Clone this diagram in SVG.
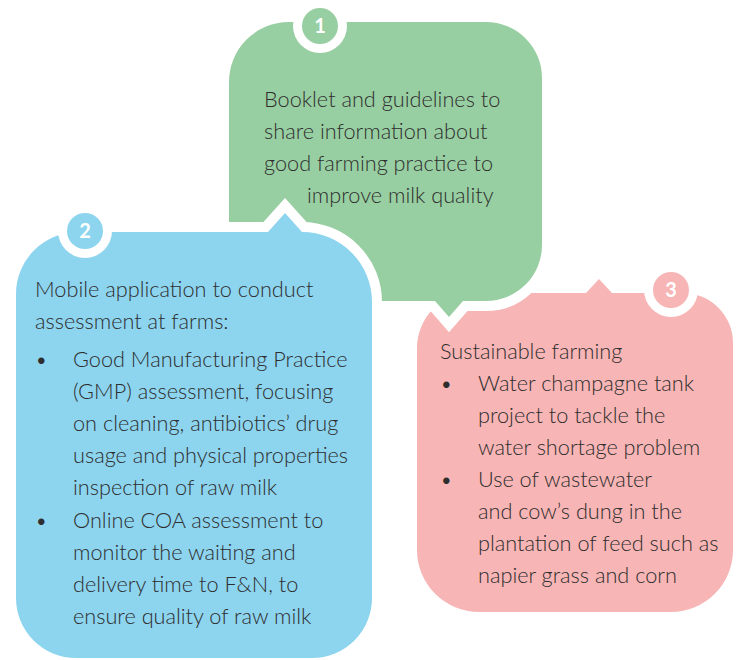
<svg xmlns="http://www.w3.org/2000/svg" width="738" height="660" viewBox="0 0 738 660">
<style>
.box{stroke:#fff;stroke-width:20;stroke-linejoin:miter;stroke-miterlimit:10;paint-order:stroke}
.t{font-family:Lato,"Noto Sans",sans-serif;font-size:21.7px;font-weight:300;fill:#2e2e2e}
.n{font-family:Lato,"Noto Sans",sans-serif;font-size:20px;font-weight:700;fill:#fff;text-anchor:middle}
.ring{fill:#fff}
</style>
<rect width="738" height="660" fill="#fff"/>
<g id="node3">
<path fill="#f7b5b5" d="M472 293 H586 L599 279 L612 293 H683 A50 50 0 0 1 733 343 V550 A62 62 0 0 1 671 612 H479 A62 62 0 0 1 417 550 V348 A55 55 0 0 1 472 293 Z"/>
</g>
<g id="node1">
<path class="box" fill="#98cfa2" d="M289 22 H486 A56 56 0 0 1 542 78 V245 A56 56 0 0 1 486 301 H463 L449 317 L435 301 H269 A40 40 0 0 1 229 261 V82 A60 60 0 0 1 289 22 Z"/>
</g>
<g id="node2">
<path class="box" fill="#8dd4ee" d="M78 232 H268 L285 213 L302 232 A70 70 0 0 1 372 302 V598 A60 60 0 0 1 312 658 H76 A60 60 0 0 1 16 598 V294 A62 62 0 0 1 78 232 Z"/>
</g>
<g id="connectors"></g>
<g id="badge1">
<circle class="ring" cx="320" cy="26" r="27"/>
<circle fill="#98cfa2" cx="320" cy="26" r="18"/>
<text class="n" x="320" y="33">1</text>
</g>
<g id="badge2">
<circle class="ring" cx="85" cy="231" r="27"/>
<circle fill="#8dd4ee" cx="85" cy="231" r="18"/>
<text class="n" x="85" y="238">2</text>
</g>
<g id="badge3">
<circle class="ring" cx="671" cy="290" r="27"/>
<circle fill="#f7b5b5" cx="671" cy="290" r="18"/>
<text class="n" x="671" y="297">3</text>
</g>
<g id="text1">
<text class="t" x="264" y="107">Booklet and guidelines to</text>
<text class="t" x="264" y="139">share information about</text>
<text class="t" x="264" y="171">good farming practice to</text>
<text class="t" x="307" y="203">improve milk quality</text>
</g>
<g id="text2">
<text class="t" x="35" y="297">Mobile application to conduct</text>
<text class="t" x="35" y="329">assessment at farms:</text>
<text class="t" x="35" y="367">•</text>
<text class="t" x="73" y="367">Good Manufacturing Practice</text>
<text class="t" x="73" y="399">(GMP) assessment, focusing</text>
<text class="t" x="73" y="431">on cleaning, antibiotics’ drug</text>
<text class="t" x="73" y="463">usage and physical properties</text>
<text class="t" x="73" y="495">inspection of raw milk</text>
<text class="t" x="35" y="528">•</text>
<text class="t" x="73" y="528">Online COA assessment to</text>
<text class="t" x="73" y="560">monitor the waiting and</text>
<text class="t" x="73" y="592">delivery time to F&amp;N, to</text>
<text class="t" x="73" y="624">ensure quality of raw milk</text>
</g>
<g id="text3">
<text class="t" x="440" y="359">Sustainable farming</text>
<text class="t" x="440" y="391">•</text>
<text class="t" x="478" y="391">Water champagne tank</text>
<text class="t" x="478" y="423">project to tackle the</text>
<text class="t" x="478" y="455">water shortage problem</text>
<text class="t" x="440" y="487">•</text>
<text class="t" x="478" y="487">Use of wastewater</text>
<text class="t" x="478" y="519">and cow’s dung in the</text>
<text class="t" x="478" y="551">plantation of feed such as</text>
<text class="t" x="478" y="583">napier grass and corn</text>
</g>
</svg>
